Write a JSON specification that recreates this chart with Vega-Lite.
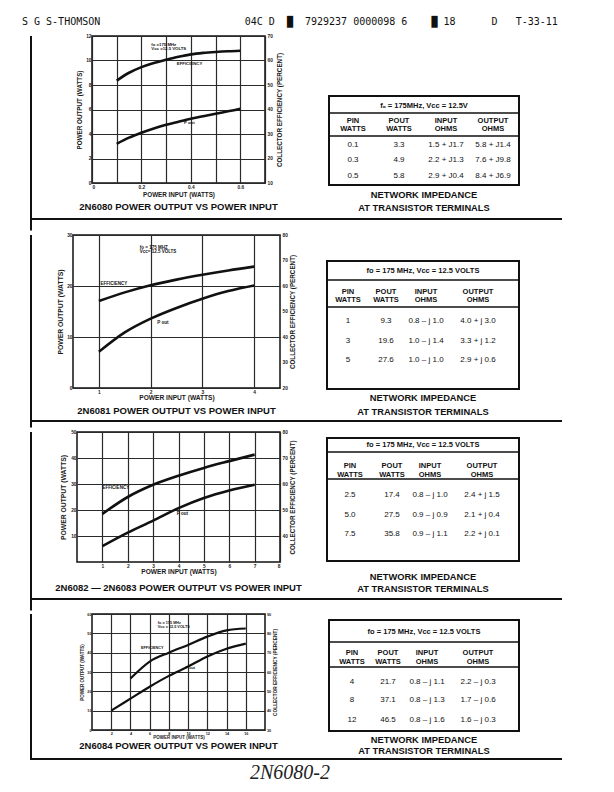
{
  "$schema": "https://vega.github.io/schema/vega-lite/v6.json",
  "background": "white",
  "padding": {"left": 22, "top": 16, "right": 5, "bottom": 5},
  "title": {
    "text": "S G S-THOMSON\u00a0\u00a0\u00a0\u00a0\u00a0\u00a0\u00a0\u00a0\u00a0\u00a0\u00a0\u00a0\u00a0\u00a0\u00a0\u00a0\u00a0\u00a0\u00a0\u00a0\u00a0\u00a0\u00a0\u00a004C D\u00a0\u00a0\u2588\u00a0\u00a07929237 0000098 6\u00a0\u00a0\u00a0\u00a0\u2588\u00a018\u00a0\u00a0\u00a0\u00a0\u00a0\u00a0D\u00a0\u00a0\u00a0T-33-11",
    "anchor": "start",
    "font": "DejaVu Sans Mono",
    "fontSize": 10,
    "fontWeight": "normal",
    "color": "#111",
    "offset": 5.6
  },
  "spacing": 0,
  "vconcat": [
    {
      "bounds": "flush",
      "spacing": 0,
      "hconcat": [
        {"width": 8, "height": 1, "data": {"values": []}, "mark": "point"},
        {"width": 2, "height": 182, "view": {"fill": "#111", "stroke": null}, "data": {"values": []}, "mark": "point"},
        {"width": 60, "height": 1, "data": {"values": []}, "mark": "point"},
        {
          "width": 173, "height": 147,
          "view": {"stroke": "#111", "strokeWidth": 1.5},
          "title": {"text": "2N6080 POWER OUTPUT VS POWER INPUT", "orient": "bottom", "anchor": "middle", "frame": "group", "offset": 4.3},
          "data": {"values": [
            {"pin": 0.1, "pout": 3.2, "eff": 51.8},
            {"pin": 0.15, "pout": 3.7, "eff": 55.0},
            {"pin": 0.2, "pout": 4.1, "eff": 57.3},
            {"pin": 0.25, "pout": 4.45, "eff": 59.0},
            {"pin": 0.3, "pout": 4.75, "eff": 60.3},
            {"pin": 0.35, "pout": 5.0, "eff": 61.5},
            {"pin": 0.4, "pout": 5.25, "eff": 62.5},
            {"pin": 0.45, "pout": 5.45, "eff": 63.1},
            {"pin": 0.5, "pout": 5.65, "eff": 63.5},
            {"pin": 0.55, "pout": 5.85, "eff": 63.8},
            {"pin": 0.6, "pout": 6.05, "eff": 64.0}
          ]},
          "resolve": {"scale": {"y": "independent"}},
          "layer": [
            {"layer": [
              {"mark": {"type": "line", "interpolate": "monotone", "strokeWidth": 2.6, "color": "#111"},
               "encoding": {
                 "x": {"field": "pin", "type": "quantitative", "scale": {"domain": [0, 0.7], "nice": false, "zero": false},
                       "axis": {"title": "POWER INPUT (WATTS)", "values": [0, 0.1, 0.2, 0.3, 0.4, 0.5, 0.6, 0.7], "tickCount": 50, "format": ".1~f", "titlePadding": 3,
                                "labelExpr": "indexof(['0','0.2','0.4','0.6'], datum.label) >= 0 ? datum.label : ''"}},
                 "y": {"field": "pout", "type": "quantitative", "scale": {"domain": [0, 12], "nice": false, "zero": false},
                       "axis": {"title": "POWER OUTPUT (WATTS)", "values": [0, 2, 4, 6, 8, 10, 12], "tickCount": 50, "format": "d", "titlePadding": 3.2}}
               }},
              {"data": {"values": [
                 {"pin": 0.24, "pout": 11.3, "label": "fo =175 MHz\nVcc =12.5 VOLTS"},
                 {"pin": 0.343, "pout": 9.75, "label": "EFFICIENCY"},
                 {"pin": 0.372, "pout": 4.87, "label": "P out"}
               ]},
               "mark": {"type": "text", "align": "left", "baseline": "middle", "fontSize": 4.3, "fontWeight": "bold", "lineBreak": "\n", "lineHeight": 4.3},
               "encoding": {"x": {"field": "pin", "type": "quantitative"}, "y": {"field": "pout", "type": "quantitative"}, "text": {"field": "label"}}}
            ]},
            {"mark": {"type": "line", "interpolate": "monotone", "strokeWidth": 2.6, "color": "#111"},
             "encoding": {
               "x": {"field": "pin", "type": "quantitative"},
               "y": {"field": "eff", "type": "quantitative", "scale": {"domain": [10, 70], "nice": false, "zero": false},
                     "axis": {"title": "COLLECTOR EFFICIENCY (PERCENT)", "orient": "right", "grid": false, "values": [10, 20, 30, 40, 50, 60, 70], "tickCount": 50, "format": "d", "titleAngle": 270, "titleBaseline": "top", "labelPadding": 2, "titlePadding": 4.5}}
             }}
          ]
        },
        {"width": 64, "height": 1, "data": {"values": []}, "mark": "point"},
        {
          "spacing": 0,
          "vconcat": [
            {"width": 1, "height": 59, "data": {"values": []}, "mark": "point"},
            {
              "width": 190, "height": 89,
              "view": {"stroke": "#111", "strokeWidth": 2},
              "title": {"text": ["NETWORK IMPEDANCE", "AT TRANSISTOR TERMINALS"], "orient": "bottom", "anchor": "middle", "frame": "group", "fontSize": 9.3, "lineHeight": 13.4, "offset": 5.6},
              "data": {"values": [
                {"r": 0, "v": "f\u2092 = 175MHz, Vcc = 12.5V"},
                {"r": 1, "c": 0, "v": "PIN\nWATTS"}, {"r": 1, "c": 1, "v": "POUT\nWATTS"}, {"r": 1, "c": 2, "v": "INPUT\nOHMS"}, {"r": 1, "c": 3, "v": "OUTPUT\nOHMS"},
                {"r": 2, "c": 0, "v": "0.1"}, {"r": 2, "c": 1, "v": "3.3"}, {"r": 2, "c": 2, "v": "1.5 + J1.7"}, {"r": 2, "c": 3, "v": "5.8 + J1.4"},
                {"r": 3, "c": 0, "v": "0.3"}, {"r": 3, "c": 1, "v": "4.9"}, {"r": 3, "c": 2, "v": "2.2 + J1.3"}, {"r": 3, "c": 3, "v": "7.6 + J9.8"},
                {"r": 4, "c": 0, "v": "0.5"}, {"r": 4, "c": 1, "v": "5.8"}, {"r": 4, "c": 2, "v": "2.9 + J0.4"}, {"r": 4, "c": 3, "v": "8.4 + J6.9"}
              ]},
              "layer": [
                {"transform": [{"filter": "datum.r == 0"}],
                 "mark": {"type": "text", "fontWeight": "bold", "fontSize": 7.5, "baseline": "middle"},
                 "encoding": {"y": {"field": "r", "type": "quantitative", "scale": {"domain": [0, 1, 2, 3, 4], "range": [10, 29, 49, 64, 80], "zero": false, "nice": false}, "axis": null}, "text": {"field": "v"}}},
                {"transform": [{"filter": "datum.r == 1"}],
                 "mark": {"type": "text", "fontWeight": "bold", "fontSize": 7.5, "baseline": "middle", "lineBreak": "\n", "lineHeight": 8.5, "dy": -4.25},
                 "encoding": {"x": {"field": "c", "type": "quantitative", "scale": {"domain": [0, 1, 2, 3], "range": [24, 70, 117, 164], "zero": false, "nice": false}, "axis": null},
                              "y": {"field": "r", "type": "quantitative"}, "text": {"field": "v"}}},
                {"transform": [{"filter": "datum.r >= 2"}],
                 "mark": {"type": "text", "fontSize": 8, "baseline": "middle"},
                 "encoding": {"x": {"field": "c", "type": "quantitative"}, "y": {"field": "r", "type": "quantitative"}, "text": {"field": "v"}}},
                {"transform": [{"filter": "datum.r == 0"}],
                 "mark": {"type": "rule", "strokeWidth": 1.5, "color": "#111"},
                 "encoding": {"y": {"datum": 0.37, "type": "quantitative"}}},
                {"transform": [{"filter": "datum.r == 0"}],
                 "mark": {"type": "rule", "strokeWidth": 1.5, "color": "#111"},
                 "encoding": {"y": {"datum": 1.55, "type": "quantitative"}}}
              ]
            }
          ]
        }
      ]
    },
    {
      "bounds": "flush", "spacing": 0,
      "hconcat": [
        {"width": 8, "height": 2, "data": {"values": []}, "mark": "point"},
        {"width": 532, "height": 2, "view": {"fill": "#111", "stroke": null}, "data": {"values": []}, "mark": "point"}
      ]
    },
    {
      "bounds": "flush", "spacing": 0,
      "hconcat": [
        {"width": 8, "height": 10.6, "data": {"values": []}, "mark": "point"},
        {"width": 2, "height": 10.6, "view": {"fill": "#111", "stroke": null}, "data": {"values": []}, "mark": "point"}
      ]
    },
    {
      "bounds": "flush",
      "spacing": 0,
      "hconcat": [
        {"width": 8, "height": 1, "data": {"values": []}, "mark": "point"},
        {"width": 2, "height": 185, "view": {"fill": "#111", "stroke": null}, "data": {"values": []}, "mark": "point"},
        {"width": 41, "height": 1, "data": {"values": []}, "mark": "point"},
        {
          "width": 207, "height": 153,
          "view": {"stroke": "#111", "strokeWidth": 1.5},
          "title": {"text": "2N6081 POWER OUTPUT VS POWER INPUT", "orient": "bottom", "anchor": "middle", "frame": "group", "offset": 4.4},
          "data": {"values": [
            {"pin": 1, "pout": 7.1, "eff": 54.1},
            {"pin": 1.5, "pout": 10.9, "eff": 57.5},
            {"pin": 2, "pout": 13.6, "eff": 60.3},
            {"pin": 2.5, "pout": 15.7, "eff": 62.5},
            {"pin": 3, "pout": 17.5, "eff": 64.4},
            {"pin": 3.5, "pout": 19.0, "eff": 66.1},
            {"pin": 4, "pout": 20.1, "eff": 67.6}
          ]},
          "resolve": {"scale": {"y": "independent"}},
          "layer": [
            {"layer": [
              {"mark": {"type": "line", "interpolate": "monotone", "strokeWidth": 2.6, "color": "#111"},
               "encoding": {
                 "x": {"field": "pin", "type": "quantitative", "scale": {"domain": [0.5, 4.5], "nice": false, "zero": false},
                       "axis": {"title": "POWER INPUT (WATTS)", "values": [1, 2, 3, 4], "tickCount": 50, "format": "d", "titlePadding": 1, "titleFontSize": 6.6}},
                 "y": {"field": "pout", "type": "quantitative", "scale": {"domain": [0, 30], "nice": false, "zero": false},
                       "axis": {"title": "POWER OUTPUT (WATTS)", "values": [0, 10, 20, 30], "tickCount": 50, "format": "d", "titleFontSize": 6.8, "titlePadding": 3.3}}
               }},
              {"data": {"values": [
                 {"pin": 1.79, "pout": 27.5, "label": "fo = 175 MHZ\nVcc= 12.5 VOLTS"},
                 {"pin": 1.03, "pout": 20.4, "label": "EFFICIENCY"},
                 {"pin": 2.13, "pout": 12.8, "label": "P out"}
               ]},
               "mark": {"type": "text", "align": "left", "baseline": "middle", "fontSize": 4.5, "fontWeight": "bold", "lineBreak": "\n", "lineHeight": 4.5},
               "encoding": {"x": {"field": "pin", "type": "quantitative"}, "y": {"field": "pout", "type": "quantitative"}, "text": {"field": "label"}}}
            ]},
            {"mark": {"type": "line", "interpolate": "monotone", "strokeWidth": 2.6, "color": "#111"},
             "encoding": {
               "x": {"field": "pin", "type": "quantitative"},
               "y": {"field": "eff", "type": "quantitative", "scale": {"domain": [20, 80], "nice": false, "zero": false},
                     "axis": {"title": "COLLECTOR EFFICIENCY (PERCENT)", "orient": "right", "grid": false, "values": [20, 30, 40, 50, 60, 70, 80], "tickCount": 50, "format": "d", "titleAngle": 270, "titleBaseline": "top", "labelPadding": 2, "titlePadding": 2.6}}
             }}
          ]
        },
        {"width": 47, "height": 1, "data": {"values": []}, "mark": "point"},
        {
          "spacing": 0,
          "vconcat": [
            {"width": 1, "height": 25, "data": {"values": []}, "mark": "point"},
            {
              "width": 192, "height": 128,
              "view": {"stroke": "#111", "strokeWidth": 2},
              "title": {"text": ["NETWORK IMPEDANCE", "AT TRANSISTOR TERMINALS"], "orient": "bottom", "anchor": "middle", "frame": "group", "fontSize": 9.3, "lineHeight": 14, "offset": 5},
              "data": {"values": [
                {"r": 0, "v": "fo = 175 MHz, Vcc = 12.5 VOLTS"},
                {"r": 1, "c": 0, "v": "PIN\nWATTS"}, {"r": 1, "c": 1, "v": "POUT\nWATTS"}, {"r": 1, "c": 2, "v": "INPUT\nOHMS"}, {"r": 1, "c": 3, "v": "OUTPUT\nOHMS"},
                {"r": 2, "c": 0, "v": "1"}, {"r": 2, "c": 1, "v": "9.3"}, {"r": 2, "c": 2, "v": "0.8 \u2013 j 1.0"}, {"r": 2, "c": 3, "v": "4.0 + j 3.0"},
                {"r": 3, "c": 0, "v": "3"}, {"r": 3, "c": 1, "v": "19.6"}, {"r": 3, "c": 2, "v": "1.0 \u2013 j 1.4"}, {"r": 3, "c": 3, "v": "3.3 + j 1.2"},
                {"r": 4, "c": 0, "v": "5"}, {"r": 4, "c": 1, "v": "27.6"}, {"r": 4, "c": 2, "v": "1.0 \u2013 j 1.0"}, {"r": 4, "c": 3, "v": "2.9 + j 0.6"}
              ]},
              "layer": [
                {"transform": [{"filter": "datum.r == 0"}],
                 "mark": {"type": "text", "fontWeight": "bold", "fontSize": 7.5, "baseline": "middle"},
                 "encoding": {"y": {"field": "r", "type": "quantitative", "scale": {"domain": [0, 1, 2, 3, 4], "range": [10, 35, 60, 80, 99], "zero": false, "nice": false}, "axis": null}, "text": {"field": "v"}}},
                {"transform": [{"filter": "datum.r == 1"}],
                 "mark": {"type": "text", "fontWeight": "bold", "fontSize": 7.5, "baseline": "middle", "lineBreak": "\n", "lineHeight": 8.5, "dy": -4.25},
                 "encoding": {"x": {"field": "c", "type": "quantitative", "scale": {"domain": [0, 1, 2, 3], "range": [21, 59, 99, 151], "zero": false, "nice": false}, "axis": null},
                              "y": {"field": "r", "type": "quantitative"}, "text": {"field": "v"}}},
                {"transform": [{"filter": "datum.r >= 2"}],
                 "mark": {"type": "text", "fontSize": 8, "baseline": "middle"},
                 "encoding": {"x": {"field": "c", "type": "quantitative"}, "y": {"field": "r", "type": "quantitative"}, "text": {"field": "v"}}},
                {"transform": [{"filter": "datum.r == 0"}],
                 "mark": {"type": "rule", "strokeWidth": 1.5, "color": "#111"},
                 "encoding": {"y": {"datum": 0.36, "type": "quantitative"}}},
                {"transform": [{"filter": "datum.r == 0"}],
                 "mark": {"type": "rule", "strokeWidth": 1.5, "color": "#111"},
                 "encoding": {"y": {"datum": 1.44, "type": "quantitative"}}}
              ]
            }
          ]
        }
      ]
    },
    {
      "bounds": "flush", "spacing": 0,
      "hconcat": [
        {"width": 8, "height": 2, "data": {"values": []}, "mark": "point"},
        {"width": 532, "height": 2, "view": {"fill": "#111", "stroke": null}, "data": {"values": []}, "mark": "point"}
      ]
    },
    {
      "bounds": "flush", "spacing": 0,
      "hconcat": [
        {"width": 8, "height": 5.6, "data": {"values": []}, "mark": "point"},
        {"width": 2, "height": 5.6, "view": {"fill": "#111", "stroke": null}, "data": {"values": []}, "mark": "point"}
      ]
    },
    {
      "bounds": "flush",
      "spacing": 0,
      "hconcat": [
        {"width": 8, "height": 1, "data": {"values": []}, "mark": "point"},
        {"width": 2, "height": 166, "view": {"fill": "#111", "stroke": null}, "data": {"values": []}, "mark": "point"},
        {"width": 45, "height": 1, "data": {"values": []}, "mark": "point"},
        {
          "width": 203, "height": 130,
          "view": {"stroke": "#111", "strokeWidth": 1.5},
          "title": {"text": "2N6082 \u2014 2N6083 POWER OUTPUT VS POWER INPUT", "orient": "bottom", "anchor": "middle", "frame": "group", "offset": 4.4, "dy": 3.3},
          "data": {"values": [
            {"pin": 1, "pout": 6.1, "eff": 48.5},
            {"pin": 2, "pout": 11.3, "eff": 55.0},
            {"pin": 3, "pout": 15.9, "eff": 59.7},
            {"pin": 4, "pout": 20.7, "eff": 63.2},
            {"pin": 5, "pout": 24.6, "eff": 66.2},
            {"pin": 6, "pout": 27.5, "eff": 68.8},
            {"pin": 7, "pout": 29.7, "eff": 71.3}
          ]},
          "resolve": {"scale": {"y": "independent"}},
          "layer": [
            {"layer": [
              {"mark": {"type": "line", "interpolate": "monotone", "strokeWidth": 2.6, "color": "#111"},
               "encoding": {
                 "x": {"field": "pin", "type": "quantitative", "scale": {"domain": [0, 8], "nice": false, "zero": false},
                       "axis": {"title": "POWER INPUT (WATTS)", "values": [1, 2, 3, 4, 5, 6, 7, 8], "tickCount": 50, "format": "d", "titlePadding": 1, "titleFontSize": 6.6}},
                 "y": {"field": "pout", "type": "quantitative", "scale": {"domain": [0, 50], "nice": false, "zero": false},
                       "axis": {"title": "POWER OUTPUT (WATTS)", "values": [10, 20, 30, 40, 50], "tickCount": 50, "format": "d", "titleFontSize": 6.8, "titlePadding": 4.2}}
               }},
              {"data": {"values": [
                 {"pin": 1.0, "pout": 28.6, "label": "EFFICIENCY"},
                 {"pin": 3.93, "pout": 18.3, "label": "P out"}
               ]},
               "mark": {"type": "text", "align": "left", "baseline": "middle", "fontSize": 4.5, "fontWeight": "bold"},
               "encoding": {"x": {"field": "pin", "type": "quantitative"}, "y": {"field": "pout", "type": "quantitative"}, "text": {"field": "label"}}}
            ]},
            {"mark": {"type": "line", "interpolate": "monotone", "strokeWidth": 2.6, "color": "#111"},
             "encoding": {
               "x": {"field": "pin", "type": "quantitative"},
               "y": {"field": "eff", "type": "quantitative", "scale": {"domain": [30, 80], "nice": false, "zero": false},
                     "axis": {"title": "COLLECTOR EFFICIENCY (PERCENT)", "orient": "right", "grid": false, "values": [40, 50, 60, 70, 80], "tickCount": 50, "format": "d", "titleAngle": 270, "titleBaseline": "top", "labelPadding": 2, "titlePadding": 2.6}}
             }}
          ]
        },
        {"width": 47, "height": 1, "data": {"values": []}, "mark": "point"},
        {
          "spacing": 0,
          "vconcat": [
            {"width": 1, "height": 5, "data": {"values": []}, "mark": "point"},
            {
              "width": 192, "height": 123,
              "view": {"stroke": "#111", "strokeWidth": 2},
              "title": {"text": ["NETWORK IMPEDANCE", "AT TRANSISTOR TERMINALS"], "orient": "bottom", "anchor": "middle", "frame": "group", "fontSize": 9.3, "lineHeight": 12, "offset": 5, "dy": 7},
              "data": {"values": [
                {"r": 0, "v": "fo = 175 MHz, Vcc = 12.5 VOLTS"},
                {"r": 1, "c": 0, "v": "PIN\nWATTS"}, {"r": 1, "c": 1, "v": "POUT\nWATTS"}, {"r": 1, "c": 2, "v": "INPUT\nOHMS"}, {"r": 1, "c": 3, "v": "OUTPUT\nOHMS"},
                {"r": 2, "c": 0, "v": "2.5"}, {"r": 2, "c": 1, "v": "17.4"}, {"r": 2, "c": 2, "v": "0.8 \u2013 j 1.0"}, {"r": 2, "c": 3, "v": "2.4 + j 1.5"},
                {"r": 3, "c": 0, "v": "5.0"}, {"r": 3, "c": 1, "v": "27.5"}, {"r": 3, "c": 2, "v": "0.9 \u2013 j 0.9"}, {"r": 3, "c": 3, "v": "2.1 + j 0.4"},
                {"r": 4, "c": 0, "v": "7.5"}, {"r": 4, "c": 1, "v": "35.8"}, {"r": 4, "c": 2, "v": "0.9 \u2013 j 1.1"}, {"r": 4, "c": 3, "v": "2.2 + j 0.1"}
              ]},
              "layer": [
                {"transform": [{"filter": "datum.r == 0"}],
                 "mark": {"type": "text", "fontWeight": "bold", "fontSize": 7.5, "baseline": "middle"},
                 "encoding": {"y": {"field": "r", "type": "quantitative", "scale": {"domain": [0, 1, 2, 3, 4], "range": [7, 32, 57, 77, 96], "zero": false, "nice": false}, "axis": null}, "text": {"field": "v"}}},
                {"transform": [{"filter": "datum.r == 1"}],
                 "mark": {"type": "text", "fontWeight": "bold", "fontSize": 7.5, "baseline": "middle", "lineBreak": "\n", "lineHeight": 9, "dy": -4.5},
                 "encoding": {"x": {"field": "c", "type": "quantitative", "scale": {"domain": [0, 1, 2, 3], "range": [23, 65, 103, 155], "zero": false, "nice": false}, "axis": null},
                              "y": {"field": "r", "type": "quantitative"}, "text": {"field": "v"}}},
                {"transform": [{"filter": "datum.r >= 2"}],
                 "mark": {"type": "text", "fontSize": 8, "baseline": "middle"},
                 "encoding": {"x": {"field": "c", "type": "quantitative"}, "y": {"field": "r", "type": "quantitative"}, "text": {"field": "v"}}},
                {"transform": [{"filter": "datum.r == 0"}],
                 "mark": {"type": "rule", "strokeWidth": 1.5, "color": "#111"},
                 "encoding": {"y": {"datum": 0.28, "type": "quantitative"}}},
                {"transform": [{"filter": "datum.r == 0"}],
                 "mark": {"type": "rule", "strokeWidth": 1.5, "color": "#111"},
                 "encoding": {"y": {"datum": 1.36, "type": "quantitative"}}}
              ]
            }
          ]
        }
      ]
    },
    {
      "bounds": "flush", "spacing": 0,
      "hconcat": [
        {"width": 8, "height": 2, "data": {"values": []}, "mark": "point"},
        {"width": 532, "height": 2, "view": {"fill": "#111", "stroke": null}, "data": {"values": []}, "mark": "point"}
      ]
    },
    {
      "bounds": "flush", "spacing": 0,
      "hconcat": [
        {"width": 8, "height": 10.4, "data": {"values": []}, "mark": "point"},
        {"width": 2, "height": 10.4, "view": {"fill": "#111", "stroke": null}, "data": {"values": []}, "mark": "point"}
      ]
    },
    {
      "bounds": "flush",
      "spacing": 0,
      "hconcat": [
        {"width": 8, "height": 1, "data": {"values": []}, "mark": "point"},
        {"width": 2, "height": 144, "view": {"fill": "#111", "stroke": null}, "data": {"values": []}, "mark": "point"},
        {"width": 60, "height": 1, "data": {"values": []}, "mark": "point"},
        {
          "width": 173, "height": 116,
          "view": {"stroke": "#111", "strokeWidth": 1.5},
          "title": {"text": "2N6084 POWER OUTPUT VS POWER INPUT", "orient": "bottom", "anchor": "middle", "frame": "group", "offset": 1.5},
          "data": {"values": [
            {"pin": 2, "pout": 10.0, "eff": null},
            {"pin": 4, "pout": 16.2, "eff": 56.6},
            {"pin": 6, "pout": 22.4, "eff": 65.4},
            {"pin": 8, "pout": 28.0, "eff": 70.0},
            {"pin": 10, "pout": 32.8, "eff": 74.0},
            {"pin": 12, "pout": 38.0, "eff": 78.3},
            {"pin": 14, "pout": 42.0, "eff": 81.5},
            {"pin": 16, "pout": 44.7, "eff": 82.5}
          ]},
          "resolve": {"scale": {"y": "independent"}},
          "layer": [
            {"layer": [
              {"mark": {"type": "line", "interpolate": "monotone", "strokeWidth": 2.2, "color": "#111"},
               "encoding": {
                 "x": {"field": "pin", "type": "quantitative", "scale": {"domain": [0, 18], "nice": false, "zero": false},
                       "axis": {"title": "POWER INPUT (WATTS)", "values": [2, 4, 6, 8, 10, 12, 14, 16], "tickCount": 50, "format": "d", "labelFontSize": 3.8, "titleFontSize": 4.5, "titlePadding": 0}},
                 "y": {"field": "pout", "type": "quantitative", "scale": {"domain": [0, 60], "nice": false, "zero": false},
                       "axis": {"title": "POWER OUTPUT (WATTS)", "values": [0, 10, 20, 30, 40, 50, 60], "tickCount": 50, "format": "d", "labelFontSize": 3.8, "titleFontSize": 4.5, "titlePadding": 1.8}}
               }},
              {"data": {"values": [
                 {"pin": 6.85, "pout": 55.3, "label": "fo = 175 MHz\nVcc = 12.5 VOLTS"},
                 {"pin": 5.1, "pout": 42.3, "label": "EFFICIENCY"},
                 {"pin": 9.74, "pout": 31.9, "label": "P out"}
               ]},
               "mark": {"type": "text", "align": "left", "baseline": "middle", "fontSize": 3.8, "fontWeight": "bold", "lineBreak": "\n", "lineHeight": 4},
               "encoding": {"x": {"field": "pin", "type": "quantitative"}, "y": {"field": "pout", "type": "quantitative"}, "text": {"field": "label"}}}
            ]},
            {"mark": {"type": "line", "interpolate": "monotone", "strokeWidth": 2.2, "color": "#111"},
             "encoding": {
               "x": {"field": "pin", "type": "quantitative"},
               "y": {"field": "eff", "type": "quantitative", "scale": {"domain": [30, 90], "nice": false, "zero": false},
                     "axis": {"title": "COLLECTOR EFFICIENCY (PERCENT)", "orient": "right", "grid": false, "values": [30, 40, 50, 60, 70, 80, 90], "tickCount": 50, "format": "d", "titleAngle": 270, "titleBaseline": "top", "labelFontSize": 3.8, "titleFontSize": 4.8, "labelPadding": 1.5, "titlePadding": 2}}
             }}
          ]
        },
        {"width": 64, "height": 1, "data": {"values": []}, "mark": "point"},
        {
          "spacing": 0,
          "vconcat": [
            {"width": 1, "height": 5, "data": {"values": []}, "mark": "point"},
            {
              "width": 190, "height": 111,
              "view": {"stroke": "#111", "strokeWidth": 2},
              "title": {"text": ["NETWORK IMPEDANCE", "AT TRANSISTOR TERMINALS"], "orient": "bottom", "anchor": "middle", "frame": "group", "fontSize": 9.3, "lineHeight": 11.7, "offset": 4.6},
              "data": {"values": [
                {"r": 0, "v": "fo = 175 MHz, Vcc = 12.5 VOLTS"},
                {"r": 1, "c": 0, "v": "PIN\nWATTS"}, {"r": 1, "c": 1, "v": "POUT\nWATTS"}, {"r": 1, "c": 2, "v": "INPUT\nOHMS"}, {"r": 1, "c": 3, "v": "OUTPUT\nOHMS"},
                {"r": 2, "c": 0, "v": "4"}, {"r": 2, "c": 1, "v": "21.7"}, {"r": 2, "c": 2, "v": "0.8 \u2013 j 1.1"}, {"r": 2, "c": 3, "v": "2.2 \u2013 j 0.3"},
                {"r": 3, "c": 0, "v": "8"}, {"r": 3, "c": 1, "v": "37.1"}, {"r": 3, "c": 2, "v": "0.8 \u2013 j 1.3"}, {"r": 3, "c": 3, "v": "1.7 \u2013 j 0.6"},
                {"r": 4, "c": 0, "v": "12"}, {"r": 4, "c": 1, "v": "46.5"}, {"r": 4, "c": 2, "v": "0.8 \u2013 j 1.6"}, {"r": 4, "c": 3, "v": "1.6 \u2013 j 0.3"}
              ]},
              "layer": [
                {"transform": [{"filter": "datum.r == 0"}],
                 "mark": {"type": "text", "fontWeight": "bold", "fontSize": 7.5, "baseline": "middle"},
                 "encoding": {"y": {"field": "r", "type": "quantitative", "scale": {"domain": [0, 1, 2, 3, 4], "range": [12, 37.5, 62, 80, 100], "zero": false, "nice": false}, "axis": null}, "text": {"field": "v"}}},
                {"transform": [{"filter": "datum.r == 1"}],
                 "mark": {"type": "text", "fontWeight": "bold", "fontSize": 7.5, "baseline": "middle", "lineBreak": "\n", "lineHeight": 8.5, "dy": -4.25},
                 "encoding": {"x": {"field": "c", "type": "quantitative", "scale": {"domain": [0, 1, 2, 3], "range": [23, 59, 98, 149], "zero": false, "nice": false}, "axis": null},
                              "y": {"field": "r", "type": "quantitative"}, "text": {"field": "v"}}},
                {"transform": [{"filter": "datum.r >= 2"}],
                 "mark": {"type": "text", "fontSize": 8, "baseline": "middle"},
                 "encoding": {"x": {"field": "c", "type": "quantitative"}, "y": {"field": "r", "type": "quantitative"}, "text": {"field": "v"}}},
                {"transform": [{"filter": "datum.r == 0"}],
                 "mark": {"type": "rule", "strokeWidth": 1.5, "color": "#111"},
                 "encoding": {"y": {"datum": 0.39, "type": "quantitative"}}},
                {"transform": [{"filter": "datum.r == 0"}],
                 "mark": {"type": "rule", "strokeWidth": 1.5, "color": "#111"},
                 "encoding": {"y": {"datum": 1.39, "type": "quantitative"}}}
              ]
            }
          ]
        }
      ]
    },
    {
      "bounds": "flush", "spacing": 0,
      "hconcat": [
        {"width": 8, "height": 2, "data": {"values": []}, "mark": "point"},
        {"width": 532, "height": 2, "view": {"fill": "#111", "stroke": null}, "data": {"values": []}, "mark": "point"}
      ]
    },
    {"width": 1, "height": 3, "data": {"values": []}, "mark": "point"},
    {
      "width": 536, "height": 20,
      "data": {"values": [{"note": "2N6080-2"}]},
      "mark": {"type": "text", "font": "Liberation Serif", "fontStyle": "italic", "fontSize": 20, "color": "#222"},
      "encoding": {"text": {"field": "note"}}
    }
  ],
  "config": {
    "view": {"stroke": null},
    "font": "Liberation Sans",
    "title": {"font": "Liberation Sans", "fontSize": 9.5, "fontWeight": "bold", "color": "#111"},
    "axis": {
      "labelFont": "Liberation Sans", "labelFontSize": 4.8, "labelFontWeight": "bold", "labelColor": "#1a1a1a",
      "titleFont": "Liberation Sans", "titleFontSize": 6.3, "titleFontWeight": "bold", "titleColor": "#1a1a1a",
      "domain": false, "ticks": false,
      "labelPadding": 1, "titlePadding": 3,
      "grid": true, "gridColor": "#2a2a2a", "gridWidth": 1.2, "gridOpacity": 1
    },
    "text": {"font": "Liberation Sans", "color": "#111"},
    "line": {"color": "#111"}
  }
}
